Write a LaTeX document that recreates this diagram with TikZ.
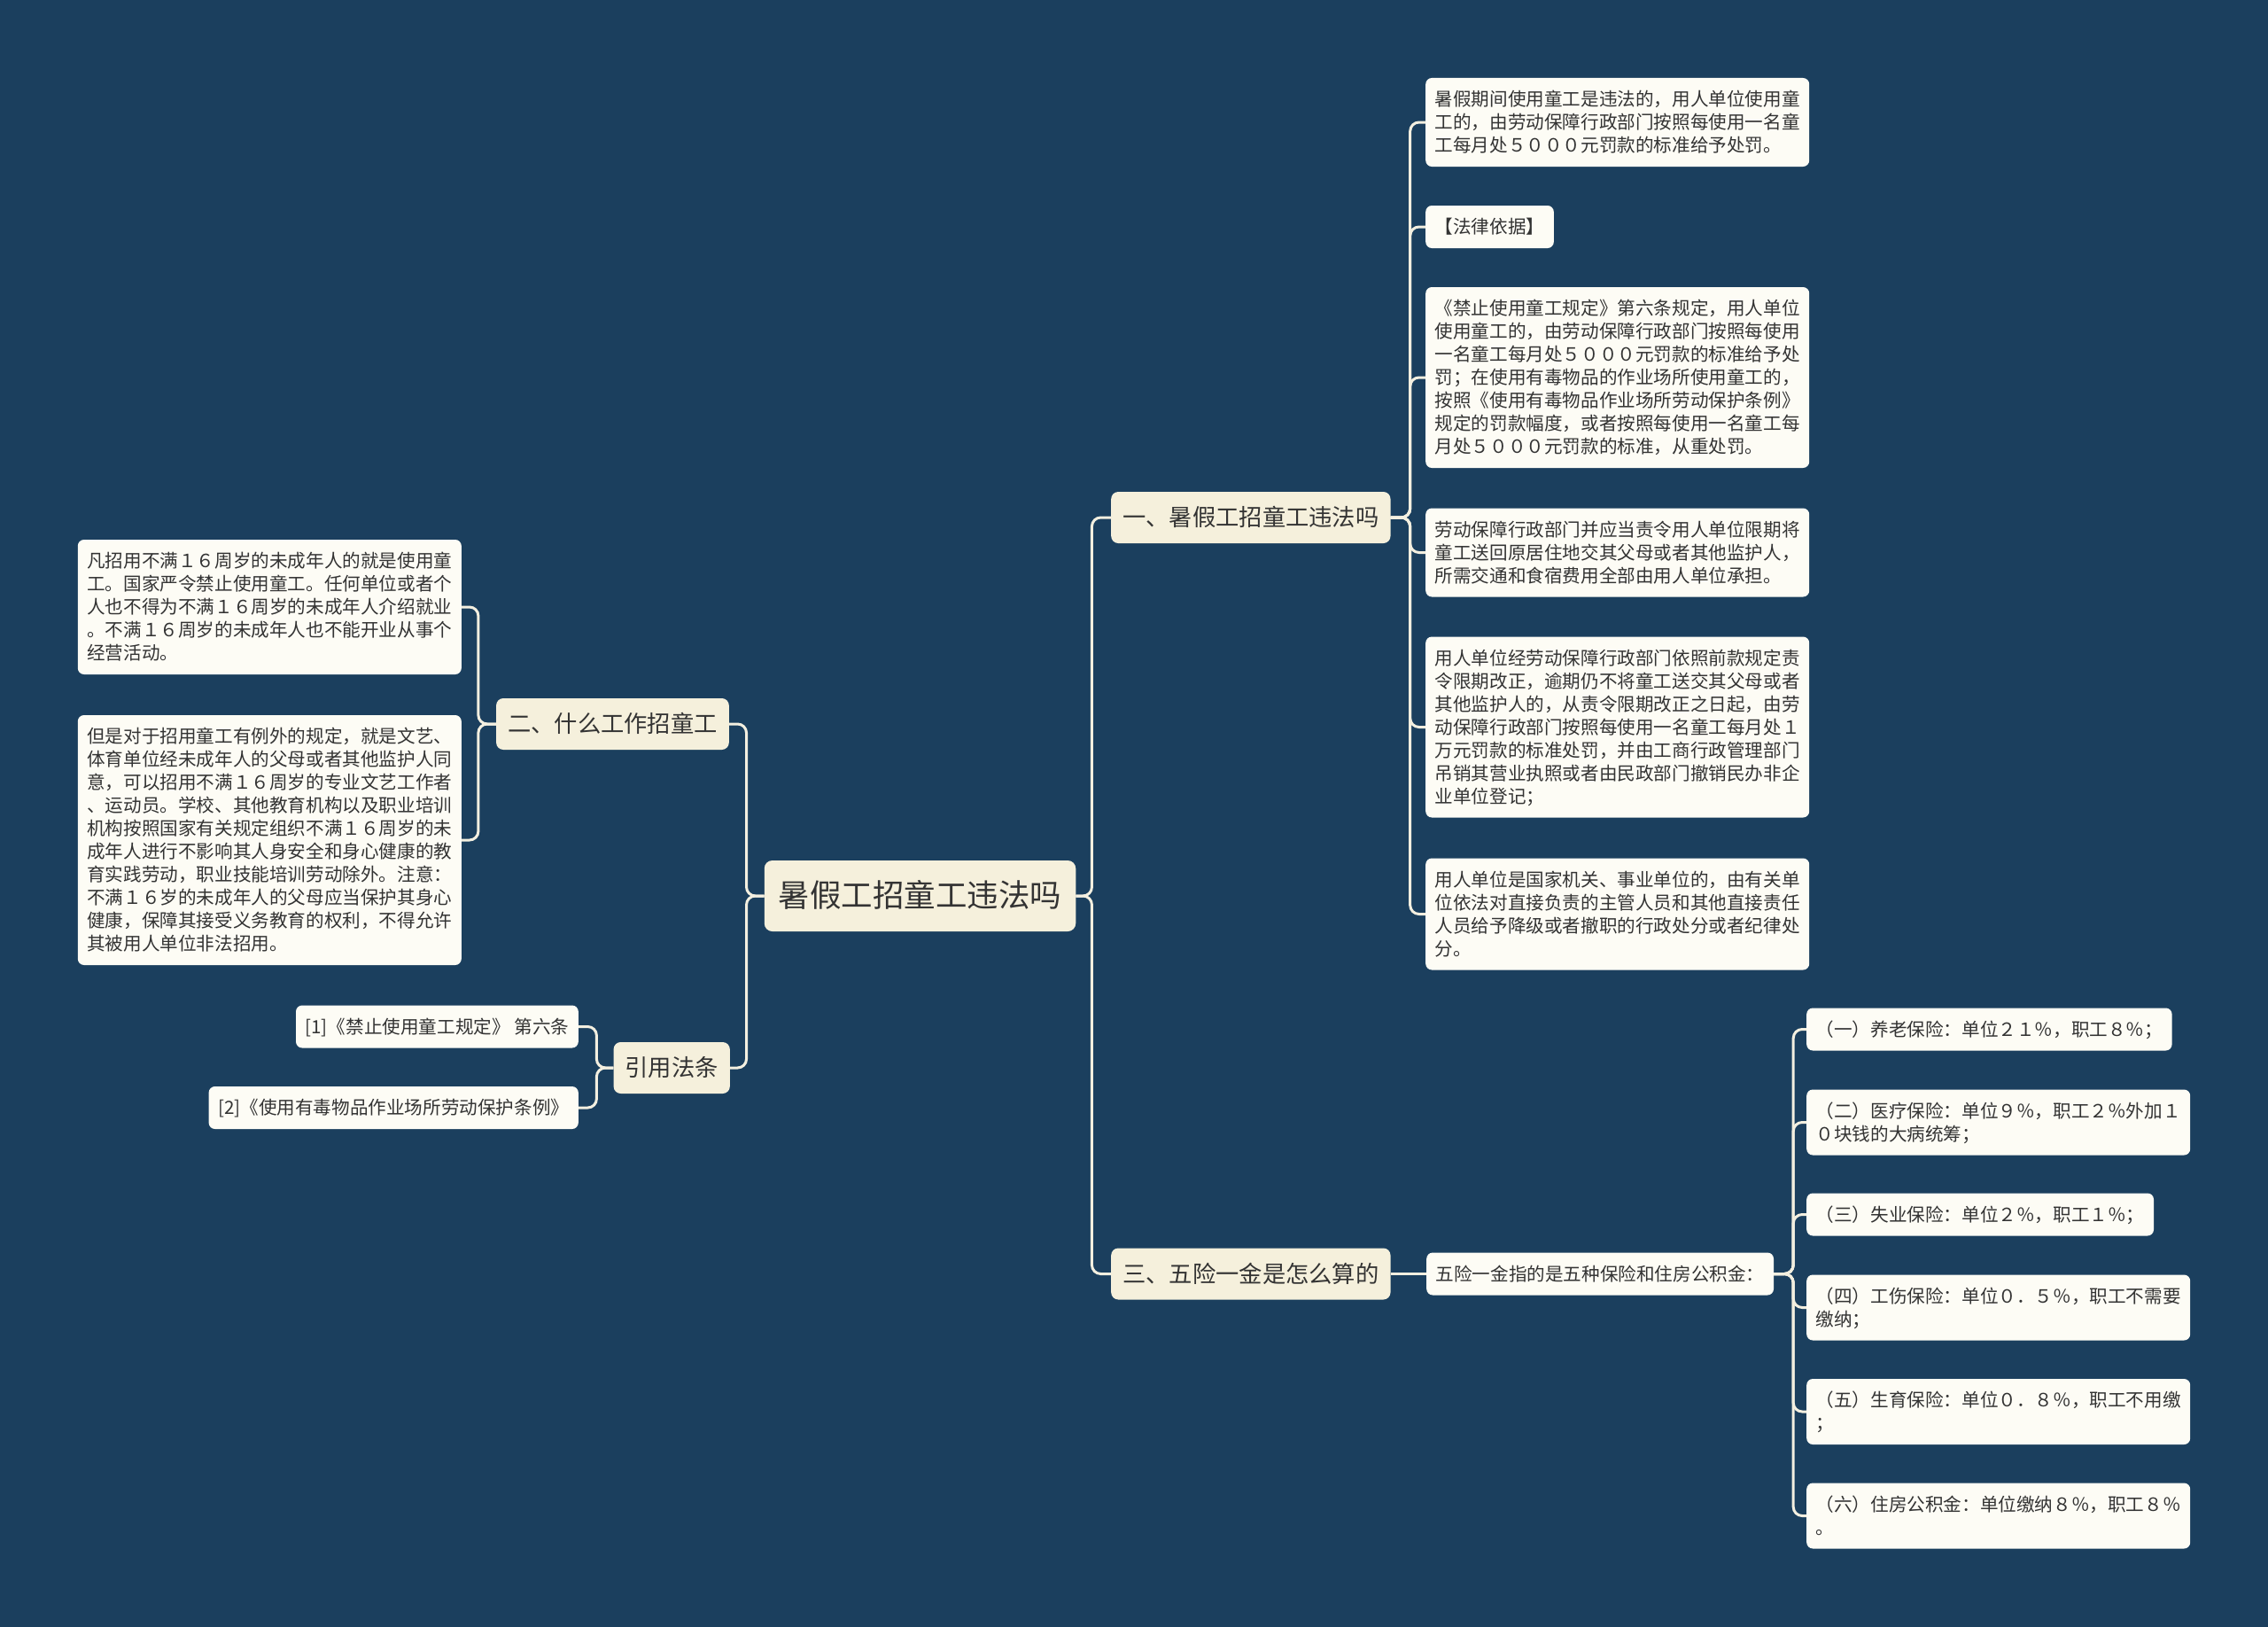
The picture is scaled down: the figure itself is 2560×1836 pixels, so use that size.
\documentclass[tikz,border=0pt]{standalone}
\usepackage{fontspec}
\setmainfont{Noto Sans CJK SC}
\definecolor{bg}{HTML}{1B3F5E}
\definecolor{leafc}{HTML}{FDFCF5}
\definecolor{brc}{HTML}{F5F0DC}
\definecolor{linec}{HTML}{F3EFE0}
\definecolor{txt}{HTML}{333333}
\newcommand\mystrut{\rule[-0.21\baselineskip]{0pt}{\baselineskip}}
\tikzset{
  leaf/.style={fill=leafc, rounded corners=7pt, align=left, inner xsep=10.5pt, inner ysep=11pt, text=txt, font=\fontsize{20.6}{26}\selectfont},
  branch/.style={fill=brc, rounded corners=8pt, align=left, inner xsep=13pt, inner ysep=12pt, text=txt, font=\fontsize{26.3}{34}\selectfont},
  rootnode/.style={fill=brc, rounded corners=9pt, align=left, inner xsep=16pt, inner ysep=18pt, text=txt, font=\fontsize{35.5}{44}\selectfont},
  conn/.style={draw=linec, line width=3pt, rounded corners=10pt},
}
\begin{document}
\begin{tikzpicture}[x=1pt, y=-1pt]
\useasboundingbox (0,0) rectangle (2560,1836);
\fill[bg] (0,0) rectangle (2560,1836);

% root
\node[rootnode] (root) at (1038.5,1011) {\mystrut 暑假工招童工违法吗\mystrut};

% branches
\node[branch, anchor=west] (b1) at (1254,584) {\mystrut 一、暑假工招童工违法吗\mystrut};
\node[branch, anchor=west] (b3) at (1254,1437.5) {\mystrut 三、五险一金是怎么算的\mystrut};
\node[branch, anchor=east] (b2) at (823,817) {\mystrut 二、什么工作招童工\mystrut};
\node[branch, anchor=east] (b4) at (824,1205) {\mystrut 引用法条\mystrut};

% right leaves of b1
\node[leaf, anchor=west] (l1) at (1609,138) {\mystrut 暑假期间使用童工是违法的，用人单位使用童\\工的，由劳动保障行政部门按照每使用一名童\\工每月处５０００元罚款的标准给予处罚。\mystrut};
\node[leaf, anchor=west] (l2) at (1609,256) {\mystrut 【法律依据】\mystrut};
\node[leaf, anchor=west] (l3) at (1609,426) {\mystrut 《禁止使用童工规定》第六条规定，用人单位\\使用童工的，由劳动保障行政部门按照每使用\\一名童工每月处５０００元罚款的标准给予处\\罚；在使用有毒物品的作业场所使用童工的，\\按照《使用有毒物品作业场所劳动保护条例》\\规定的罚款幅度，或者按照每使用一名童工每\\月处５０００元罚款的标准，从重处罚。\mystrut};
\node[leaf, anchor=west] (l4) at (1609,623.5) {\mystrut 劳动保障行政部门并应当责令用人单位限期将\\童工送回原居住地交其父母或者其他监护人，\\所需交通和食宿费用全部由用人单位承担。\mystrut};
\node[leaf, anchor=west] (l5) at (1609,820.5) {\mystrut 用人单位经劳动保障行政部门依照前款规定责\\令限期改正，逾期仍不将童工送交其父母或者\\其他监护人的，从责令限期改正之日起，由劳\\动保障行政部门按照每使用一名童工每月处１\\万元罚款的标准处罚，并由工商行政管理部门\\吊销其营业执照或者由民政部门撤销民办非企\\业单位登记；\mystrut};
\node[leaf, anchor=west] (l6) at (1609,1031.5) {\mystrut 用人单位是国家机关、事业单位的，由有关单\\位依法对直接负责的主管人员和其他直接责任\\人员给予降级或者撤职的行政处分或者纪律处\\分。\mystrut};

% b3 children
\node[leaf, anchor=west] (w) at (1610,1437.5) {\mystrut 五险一金指的是五种保险和住房公积金：\mystrut};
\node[leaf, anchor=west] (s1) at (2039,1161.5) {\mystrut （一）养老保险：单位２１％，职工８％；\mystrut};
\node[leaf, anchor=west] (s2) at (2039,1266.5) {\mystrut （二）医疗保险：单位９％，职工２％外加１\\０块钱的大病统筹；\mystrut};
\node[leaf, anchor=west] (s3) at (2039,1370.5) {\mystrut （三）失业保险：单位２％，职工１％；\mystrut};
\node[leaf, anchor=west] (s4) at (2039,1475.5) {\mystrut （四）工伤保险：单位０．５％，职工不需要\\缴纳；\mystrut};
\node[leaf, anchor=west] (s5) at (2039,1593) {\mystrut （五）生育保险：单位０．８％，职工不用缴\\；\mystrut};
\node[leaf, anchor=west] (s6) at (2039,1710.5) {\mystrut （六）住房公积金：单位缴纳８％，职工８％\\。\mystrut};

% b2 children
\node[leaf, anchor=east] (a1) at (521,685) {\mystrut 凡招用不满１６周岁的未成年人的就是使用童\\工。国家严令禁止使用童工。任何单位或者个\\人也不得为不满１６周岁的未成年人介绍就业\\。不满１６周岁的未成年人也不能开业从事个\\经营活动。\mystrut};
\node[leaf, anchor=east] (a2) at (521,948) {\mystrut 但是对于招用童工有例外的规定，就是文艺、\\体育单位经未成年人的父母或者其他监护人同\\意，可以招用不满１６周岁的专业文艺工作者\\、运动员。学校、其他教育机构以及职业培训\\机构按照国家有关规定组织不满１６周岁的未\\成年人进行不影响其人身安全和身心健康的教\\育实践劳动，职业技能培训劳动除外。注意：\\不满１６岁的未成年人的父母应当保护其身心\\健康，保障其接受义务教育的权利，不得允许\\其被用人单位非法招用。\mystrut};

% b4 children
\node[leaf, anchor=east] (r1) at (653,1158.5) {\mystrut [1]《禁止使用童工规定》 第六条\mystrut};
\node[leaf, anchor=east] (r2) at (653,1250) {\mystrut [2]《使用有毒物品作业场所劳动保护条例》\mystrut};

% connectors
\draw[conn] (root.east) -- ++(18,0) |- (b1.west);
\draw[conn] (root.east) -- ++(18,0) |- (b3.west);
\draw[conn] (root.west) -- ++(-20,0) |- (b2.east);
\draw[conn] (root.west) -- ++(-20,0) |- (b4.east);

\foreach \c in {l1,l2,l3,l4,l5,l6}
  \draw[conn] (b1.east) -- ++(22,0) |- (\c.west);
\draw[conn] (b3.east) -- (w.west);
\foreach \c in {s1,s2,s3,s4,s5,s6}
  \draw[conn] (w.east) -- ++(22,0) |- (\c.west);
\foreach \c in {a1,a2}
  \draw[conn] (b2.west) -- ++(-20,0) |- (\c.east);
\foreach \c in {r1,r2}
  \draw[conn] (b4.west) -- ++(-19,0) |- (\c.east);
\end{tikzpicture}
\end{document}
